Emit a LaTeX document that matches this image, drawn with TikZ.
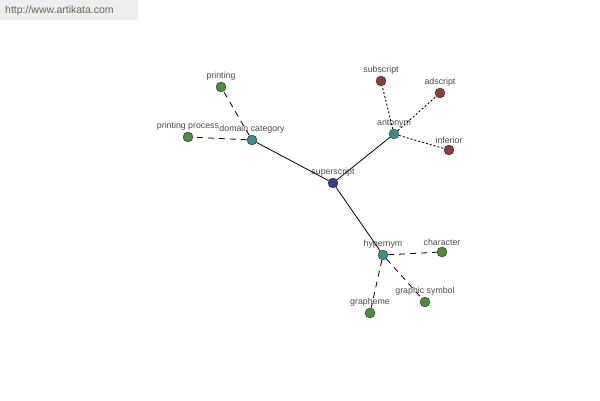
\documentclass[tikz,border=0pt]{standalone}
\usepackage{fontspec}
\setmainfont{Liberation Sans}
\usetikzlibrary{positioning}
\definecolor{hubblue}{RGB}{60,60,140}
\definecolor{relteal}{RGB}{60,140,140}
\definecolor{leafgreen}{RGB}{76,140,60}
\definecolor{leafred}{RGB}{140,60,60}
\definecolor{wmgray}{RGB}{238,238,238}
\definecolor{wmtext}{RGB}{90,110,80}

\begin{document}
\begin{tikzpicture}[x=1pt, y=-1pt, inner sep=0pt,
    word/.style={circle, draw=black!80, minimum size=10pt, label={[text=black!70, font=\fontsize{8.8}{10}\selectfont, inner sep=1.5pt]above:#1}},
    hub/.style={word=#1, fill=hubblue},
    rel/.style={word=#1, fill=relteal},
    leaf/.style={word=#1, fill=leafgreen},
    anto/.style={word=#1, fill=leafred}]

    % Cadre et filigrane
    \useasboundingbox (0,0) rectangle (600,400);
    \fill[white] (0,0) rectangle (600,400);
    \fill[wmgray] (0,0) rectangle (138,20);
    \node[anchor=west, text=wmtext, font=\fontsize{10.5}{12}\selectfont] (site) at (5,11) {http://www.artikata.com};

    % Définitions des mots
    \node[hub=superscript] (sup) at (333,183) {};
    \node[rel=domain category] (dom) at (252,140) {};
    \node[rel=antonym] (ant) at (394,134) {};
    \node[rel=hypernym] (hyp) at (383,255) {};
    \node[leaf=printing] (prt) at (221,87) {};
    \node[leaf=printing process] (prp) at (188,137) {};
    \node[anto=subscript] (sub) at (381,81) {};
    \node[anto=adscript] (ads) at (440,93) {};
    \node[anto=inferior] (inf) at (449,150) {};
    \node[leaf=character] (chr) at (442,252) {};
    \node[leaf=graphic symbol] (gsy) at (425,302) {};
    \node[leaf=grapheme] (gph) at (370,313) {};

    % Définition des liens
    \path[draw=black, line width=0.8pt]
    (sup) edge (dom)
    (sup) edge (ant)
    (sup) edge (hyp);
    \path[draw=black, line width=0.8pt, dash pattern=on 6pt off 5pt]
    (dom) edge (prt)
    (dom) edge (prp)
    (hyp) edge (chr)
    (hyp) edge (gsy)
    (hyp) edge (gph);
    \path[draw=black, line width=0.9pt, dash pattern=on 2pt off 2pt]
    (ant) edge (sub)
    (ant) edge (ads)
    (ant) edge (inf);

\end{tikzpicture}
\end{document}
